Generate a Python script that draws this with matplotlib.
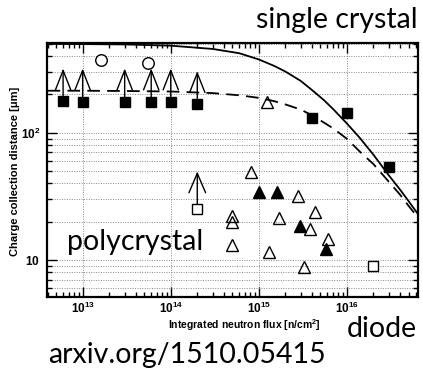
import matplotlib
matplotlib.use("Agg")
from matplotlib import pyplot as plt
from matplotlib import ticker

# single crystal, filled squares (the first six are lower limits)
sc_flux = [6e12, 1e13, 3e13, 6e13, 1e14, 2e14, 4e15, 1e16, 3e16]
sc_ccd = [179, 176, 176, 176, 176, 169, 130, 144, 54]
sc_limit = [320, 320, 320, 320, 320, 305, None, None, None]

# single crystal, open circles
sc2_flux = [1.6e13, 5.5e13]
sc2_ccd = [371, 352]

# polycrystal, open triangles
pc_flux = [1.25e15, 8.1e14, 2.8e15, 4.35e15, 1.7e15, 5e14, 5e14, 5e14, 3.8e15, 6.1e15, 1.29e15, 3.27e15]
pc_ccd = [175, 49, 31.5, 23.7, 21.3, 22, 19.8, 13, 17.5, 14.6, 11.5, 8.75]

# polycrystal, filled triangles
pc2_flux = [1e15, 1.6e15, 2.95e15, 5.8e15]
pc2_ccd = [34, 34, 18.4, 12.1]

# open squares (polycrystal lower limit, diode)
sq_flux = [2e14, 2e16]
sq_ccd = [25, 8.9]
sq_limit = [49.5, None]

# curves
curve_flux = [4e12, 1e13, 3e13, 1e14, 3e14, 6e14, 1e15, 1.5e15, 2e15, 3e15, 4e15, 5.5e15, 7e15,
              1e16, 1.4e16, 2e16, 3e16, 4e16, 5e16, 6.4e16]
solid_ccd = [500, 498, 495, 484, 456, 422, 377, 335, 303, 255, 217, 180, 153,
             118, 91, 67, 46, 35.7, 29, 22.9]
dashed_ccd = [214, 214, 213, 211, 205, 197, 188, 177, 167, 152, 137, 120, 108,
              89.5, 71, 56.6, 41, 32.6, 26.6, 21.5]

plt.rcParams['mathtext.fontset'] = 'custom'
plt.rcParams['mathtext.rm'] = 'Liberation Sans'
plt.rcParams['mathtext.bf'] = 'Liberation Sans:bold'

fig = plt.figure(figsize=(4.23, 3.68), dpi=100)
ax = fig.add_axes([47 / 423, 71 / 368, 371 / 423, 254 / 368])
ax.set_xscale('log')
ax.set_yscale('log')
ax.set_xlim(3.94e12, 6.4e16)
ax.set_ylim(5.1, 508)

ax.grid(which='major', axis='x', color='#888888', linestyle=(0, (1, 1.5)), lw=0.7)
ax.grid(which='both', axis='y', color='#888888', linestyle=(0, (1, 1.5)), lw=0.7)

ax.plot(curve_flux, solid_ccd, color='black', lw=1.3)
ax.plot(curve_flux, dashed_ccd, color='black', lw=1.3, linestyle=(0, (7, 4)))

# arrows for lower limits
for x, y, top in zip(sc_flux, sc_ccd, sc_limit):
    if top:
        ax.annotate('', xy=(x, top), xytext=(x, y),
                    arrowprops=dict(arrowstyle='->,head_length=1.4,head_width=0.55',
                                    lw=1.0, color='black', shrinkA=0, shrinkB=0))
for x, y, top in zip(sq_flux, sq_ccd, sq_limit):
    if top:
        ax.annotate('', xy=(x, top), xytext=(x, y),
                    arrowprops=dict(arrowstyle='->,head_length=1.4,head_width=0.6',
                                    lw=1.0, color='black', shrinkA=3.6, shrinkB=0))

ax.plot(sc_flux, sc_ccd, 's', color='black', ms=7.5, zorder=3)
ax.plot(sc2_flux, sc2_ccd, 'o', mfc='white', mec='black', ms=8.3, mew=1.0, zorder=3)
ax.plot(pc_flux, pc_ccd, '^', mfc='none', mec='black', ms=8.2, mew=1.0, zorder=3)
ax.plot(pc2_flux, pc2_ccd, '^', color='black', ms=8.2, zorder=3)
ax.plot(sq_flux, sq_ccd, 's', mfc='white', mec='black', ms=7.0, mew=1.0, zorder=3)

ax.xaxis.set_major_locator(ticker.FixedLocator([1e13, 1e14, 1e15, 1e16]))
ax.xaxis.set_major_formatter(ticker.FixedFormatter(
    [r'$\mathbf{10^{13}}$', r'$\mathbf{10^{14}}$', r'$\mathbf{10^{15}}$', r'$\mathbf{10^{16}}$']))
ax.xaxis.set_minor_locator(ticker.LogLocator(base=10, subs=range(2, 10), numticks=20))
ax.xaxis.set_minor_formatter(ticker.NullFormatter())
ax.yaxis.set_major_locator(ticker.FixedLocator([10, 100]))
ax.yaxis.set_major_formatter(ticker.FixedFormatter([r'$\mathbf{10}$', r'$\mathbf{10^{2}}$']))
ax.yaxis.set_minor_locator(ticker.LogLocator(base=10, subs=range(2, 10), numticks=20))
ax.yaxis.set_minor_formatter(ticker.NullFormatter())

ax.tick_params(which='both', direction='in', top=True, right=True, labelsize=8.5, width=1.0)
ax.tick_params(which='major', length=7)
ax.tick_params(axis='x', which='major', pad=3)
ax.tick_params(axis='y', which='major', pad=5)
ax.tick_params(which='minor', length=3.5)
for s in ax.spines.values():
    s.set_linewidth(1.6)

fig.text(321 / 423, 1 - 325 / 368, r'Integrated neutron flux [n/cm$^{\mathbf{2}}$]',
         ha='right', va='center', fontsize=7.5, fontweight='bold', family='Liberation Sans')
fig.text(15 / 423, 1 - 171 / 368, 'Charge collection distance [\u03bcm]', rotation=90,
         ha='center', va='center', fontsize=8, fontweight='bold', family='Liberation Sans')

big = dict(family='Lato', fontsize=20.5, color='black')
fig.text(418 / 423, 1 - 28 / 368, 'single crystal', ha='right', va='baseline', **big)
fig.text(67 / 423, 1 - 250 / 368, 'polycrystal', ha='left', va='baseline', **big)
fig.text(417 / 423, 1 - 337 / 368, 'diode', ha='right', va='baseline', **big)
fig.text(48 / 423, 1 - 363 / 368, 'arxiv.org/1510.05415', ha='left', va='baseline', **big)

fig.savefig('out.png', dpi=100)
